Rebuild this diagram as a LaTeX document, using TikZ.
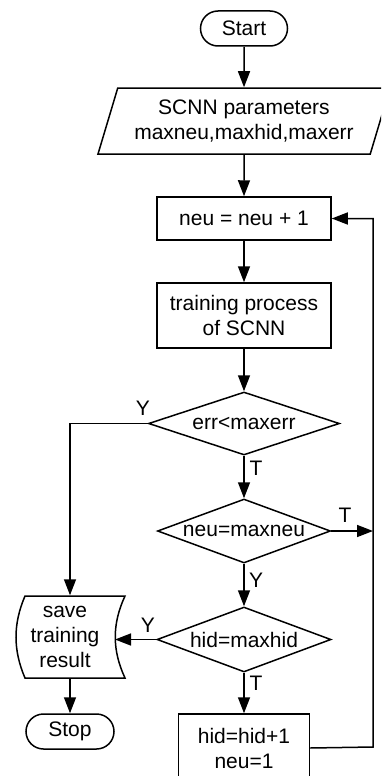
\documentclass[tikz,border=0pt]{standalone}
\usepackage{fontspec}
\setmainfont{Liberation Sans}
\usetikzlibrary{arrows.meta,shapes.geometric,shapes.misc}
\begin{document}
\begin{tikzpicture}[x=1pt,y=1pt, line width=1.5pt,
  every node/.style={font=\fontsize{21}{25}\selectfont, inner sep=0pt},
  arr/.style={-{Triangle[length=16pt,width=12pt]}},
  term/.style={draw, rounded rectangle, minimum width=87, minimum height=35},
  proc/.style={draw, rectangle, minimum width=174, align=center},
  dec/.style={draw, diamond},
  lab/.style={}]
\useasboundingbox (0,0) rectangle (381,-776);
\clip (0,0) rectangle (381,-776);
\node[term] (start) at (244,-28.5) {Start};
\node[draw, trapezium, trapezium left angle=65, trapezium right angle=115,
      trapezium stretches body, minimum width=292, minimum height=66, align=center]
      (param) at (244,-121) {SCNN parameters\\maxneu,maxhid,maxerr};
\node[proc, minimum height=43] (neu) at (244,-218.5) {neu = neu + 1};
\node[proc, minimum height=65] (train) at (244,-315.5) {training process\\of SCNN};
\node[dec, aspect=3.03, minimum width=191, minimum height=63] (d1) at (244,-423.5) {err<maxerr};
\node[dec, aspect=2.7, minimum width=173, minimum height=64] (d2) at (244,-531) {neu=maxneu};
\node[dec, aspect=2.68, minimum width=174, minimum height=65] (d3) at (244,-639.5) {hid=maxhid};
\node[proc, minimum width=131, minimum height=68] (upd) at (244,-748) {hid=hid+1\\neu=1};
\node[minimum width=110, minimum height=82, align=center] (save) at (70,-637)
  {\hspace*{-10pt}save\\\hspace*{-10pt}training\\\hspace*{-10pt}result};
\draw (25,-596) -- (125,-596) .. controls (112,-624) and (112,-650) .. (125,-678)
  -- (25,-678) .. controls (13,-650) and (13,-624) .. (25,-596) -- cycle;
\coordinate (saveR) at (115,-639.5);
\node[term, minimum width=88] (stop) at (70,-731.5) {Stop};
\coordinate (ret) at (373,-747);

\draw[arr] (start) -- (param);
\draw[arr] (param) -- (neu);
\draw[arr] (neu) -- (train);
\draw[arr] (train) -- (d1);
\draw[arr] (d1) -- (d2);
\draw[arr] (d2) -- (d3);
\draw[arr] (d3) -- (upd);
\draw[arr] (d1.west) -| (save.north);
\draw[arr] (d3.west) -- (saveR);
\draw[arr] (save.south) -- (stop.north);
\draw[arr] (d2.east) -- (d2.east -| ret);
\draw[arr] (upd.east) -- (ret) |- (neu.east);

\node[lab] (y1) at (143,-408) {Y};
\node[lab] (t1) at (256,-468) {T};
\node[lab] (t2) at (345,-515) {T};
\node[lab] (y2) at (256,-580) {Y};
\node[lab] (y3) at (148,-625) {Y};
\node[lab] (t3) at (256,-683) {T};
\end{tikzpicture}
\end{document}
